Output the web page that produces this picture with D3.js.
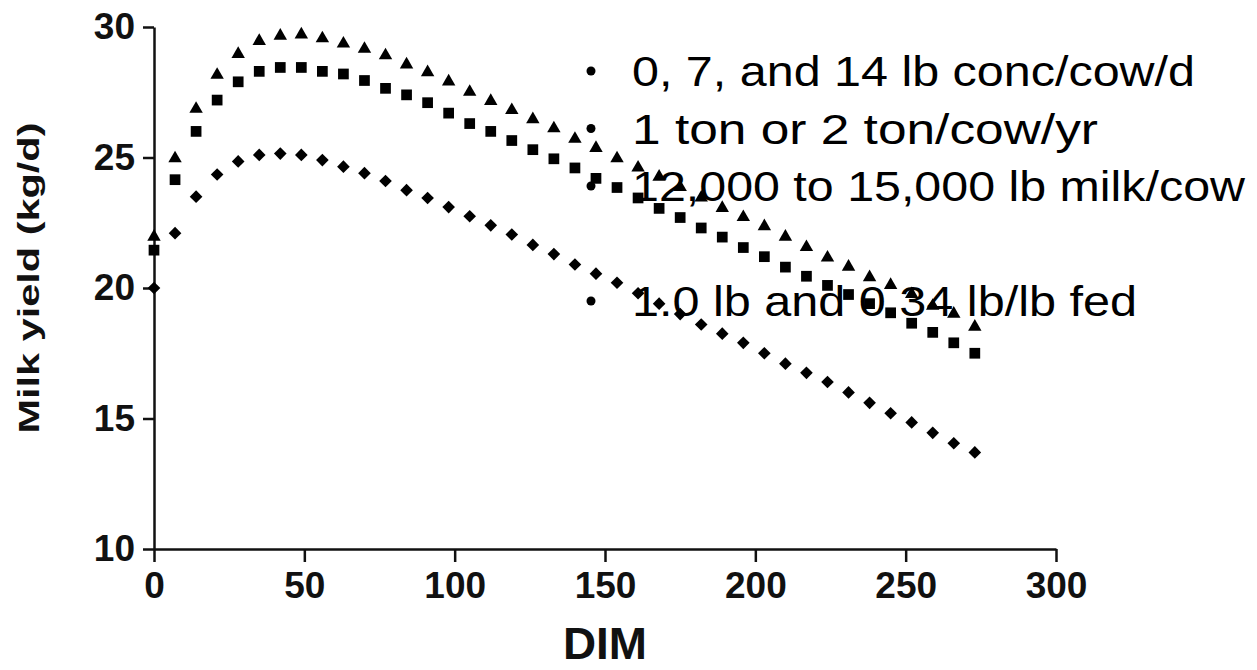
<!DOCTYPE html>
<html lang="en">
<head>
	<meta charset="UTF-8"/>
	<title>Milk yield by DIM</title>
	<style>
	body { margin: 0; background: white; }
	.tick text { font-family: "Liberation Sans", Arial, sans-serif; font-weight: bold; }
	</style>
	<script src="https://d3js.org/d3.v7.min.js"></script>
</head>
<body>
	<div id="chart"></div>
	<script>

	// days in milk (x values)
	var dim = [0, 7, 14, 21, 28, 35, 42, 49, 56, 63,
	           70, 77, 84, 91, 98, 105, 112, 119, 126, 133,
	           140, 147, 154, 161, 168, 175, 182, 189, 196, 203,
	           210, 217, 224, 231, 238, 245, 252, 259, 266, 273];

	// triangle series
	var triangles = [22.0, 25.0, 26.9, 28.2, 29.0, 29.5, 29.7, 29.75, 29.6, 29.4,
	                 29.2, 28.95, 28.6, 28.3, 27.95, 27.55, 27.2, 26.85, 26.5, 26.15,
	                 25.75, 25.4, 25.0, 24.65, 24.3, 23.9, 23.5, 23.1, 22.75, 22.4,
	                 22.0, 21.6, 21.2, 20.85, 20.45, 20.15, 19.8, 19.35, 19.05, 18.55];

	// square series
	var squares = [21.45, 24.15, 26.0, 27.2, 27.9, 28.3, 28.45, 28.45, 28.3, 28.2,
	               27.95, 27.65, 27.4, 27.1, 26.7, 26.3, 26.0, 25.65, 25.3, 24.95,
	               24.6, 24.2, 23.85, 23.45, 23.05, 22.7, 22.3, 21.95, 21.55, 21.2,
	               20.8, 20.45, 20.1, 19.75, 19.4, 19.05, 18.65, 18.3, 17.9, 17.5];

	// diamond series
	var diamonds = [20.0, 22.1, 23.5, 24.35, 24.85, 25.1, 25.15, 25.1, 24.9, 24.65,
	                24.4, 24.1, 23.75, 23.45, 23.1, 22.75, 22.4, 22.05, 21.65, 21.3,
	                20.9, 20.55, 20.2, 19.8, 19.4, 19.0, 18.6, 18.25, 17.9, 17.5,
	                17.1, 16.75, 16.4, 16.0, 15.6, 15.2, 14.85, 14.45, 14.05, 13.7];

	var xTicks = [0, 50, 100, 150, 200, 250, 300];
	var yTicks = [10, 15, 20, 25, 30];

	// bullet text (empty line kept for the gap)
	var notes = ["0, 7, and 14 lb conc/cow/d",
	             "1 ton or 2 ton/cow/yr",
	             "12,000 to 15,000 lb milk/cow",
	             "",
	             "1.0 lb and 0.34 lb/lb fed"];
	var noteLengths = [563, 466, 613, 0, 505];

	var w = 1257;
	var h = 670;

	var xScale = d3.scaleLinear()
					.domain([0, 300])
					.range([154, 1056]);

	var yScale = d3.scaleLinear()
					.domain([10, 30])
					.range([549, 27]);

	var svg = d3.select("#chart")
			.append("svg")
			.attr("width", w)
			.attr("height", h);

	// x axis
	var xAxis = svg.append("g")
			.attr("transform", "translate(0," + yScale(10) + ")")
			.call(d3.axisBottom(xScale).tickValues(xTicks).tickSize(13).tickSizeOuter(0).tickPadding(10));

	// y axis
	var yAxis = svg.append("g")
			.attr("transform", "translate(" + xScale(0) + ",0)")
			.call(d3.axisLeft(yScale).tickValues(yTicks).tickSize(11).tickSizeOuter(0).tickPadding(8));

	svg.selectAll(".domain, .tick line")
		.attr("stroke", "#111")
		.attr("stroke-width", 2.5);

	xAxis.selectAll(".tick text")
		.attr("font-size", 37)
		.attr("fill", "#111");

	yAxis.selectAll(".tick text")
		.attr("font-size", 37)
		.attr("fill", "#111");

	// axis titles
	svg.append("text")
		.attr("x", (xScale(0) + xScale(300)) / 2)
		.attr("y", 659)
		.attr("text-anchor", "middle")
		.attr("font-family", "Liberation Sans, Arial, sans-serif")
		.attr("font-weight", "bold")
		.attr("font-size", 45)
		.attr("textLength", 84)
		.attr("lengthAdjust", "spacingAndGlyphs")
		.attr("fill", "#111")
		.text("DIM");

	svg.append("text")
		.attr("transform", "translate(39,278) rotate(-90)")
		.attr("text-anchor", "middle")
		.attr("font-family", "Liberation Sans, Arial, sans-serif")
		.attr("font-weight", "bold")
		.attr("font-size", 30)
		.attr("textLength", 311)
		.attr("lengthAdjust", "spacingAndGlyphs")
		.attr("fill", "#111")
		.text("Milk yield (kg/d)");

	// markers
	var plot = svg.append("g");

	plot.selectAll(".tri")
		.data(triangles)
		.enter()
		.append("path")
		.attr("class", "tri")
		.attr("d", d3.symbol().type(d3.symbolTriangle).size(78))
		.attr("transform", function(d, i) {
			return "translate(" + xScale(dim[i]) + "," + (yScale(d) + 1) + ")";
		})
		.attr("fill", "black");

	plot.selectAll(".sq")
		.data(squares)
		.enter()
		.append("path")
		.attr("class", "sq")
		.attr("d", d3.symbol().type(d3.symbolSquare).size(115))
		.attr("transform", function(d, i) {
			return "translate(" + xScale(dim[i]) + "," + yScale(d) + ")";
		})
		.attr("fill", "black");

	plot.selectAll(".dia")
		.data(diamonds)
		.enter()
		.append("path")
		.attr("class", "dia")
		.attr("d", d3.symbol().type(d3.symbolSquare).size(80))
		.attr("transform", function(d, i) {
			return "translate(" + xScale(dim[i]) + "," + yScale(d) + ") rotate(45)";
		})
		.attr("fill", "black");

	// bullet list
	var notesG = svg.append("g");

	notes.forEach(function(t, i) {
		if (t === "") return;
		var base = 86 + i * 57.5;
		notesG.append("circle")
			.attr("cx", 591)
			.attr("cy", base - 15)
			.attr("r", 4.5)
			.attr("fill", "black");
		notesG.append("text")
			.attr("x", 632)
			.attr("y", base)
			.attr("font-family", "Liberation Sans, Arial, sans-serif")
			.attr("font-size", 42)
			.attr("textLength", noteLengths[i])
			.attr("lengthAdjust", "spacingAndGlyphs")
			.attr("fill", "black")
			.text(t);
	});

	</script>
</body>
</html>
